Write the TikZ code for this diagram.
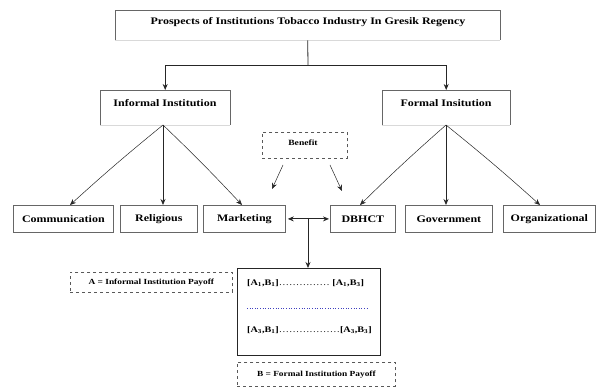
\documentclass[tikz,border=0pt]{standalone}
\usepackage{fontspec}
\setmainfont[FakeStretch=1.2]{Liberation Serif}
\usetikzlibrary{arrows.meta,positioning}
\begin{document}
\begin{tikzpicture}[x=1pt,y=-1pt,
  box/.style={draw=gray!80!black, line width=0.8pt, inner sep=0pt, font=\bfseries\fontsize{10}{11}\selectfont},
  dbox/.style={draw=gray!70!black, dashed, line width=0.7pt, inner sep=0pt, font=\bfseries\fontsize{7.8}{9}\selectfont},
  arr/.style={-{Stealth[length=6pt,width=5pt]}, line width=0.8pt, black!85},
  thin/.style={-{Stealth[length=6pt,width=5pt]}, line width=0.5pt, black!85}]
\useasboundingbox (0,0) rectangle (597,387);
% top box
\node[minimum width=385pt, minimum height=30pt, anchor=north west, inner sep=0pt] (top) at (115,10) {};
\draw[gray!80!black, line width=0.8pt] (115,40) -- (115,10) -- (500,10) -- (500,40);
\draw[gray!30, line width=0.6pt] (115,40) -- (500,40);
\node[font=\bfseries\fontsize{10}{11}\selectfont] (toptxt) at (308,22) {Prospects of Institutions Tobacco Industry In Gresik Regency};
% second level
\node[minimum width=130pt, minimum height=35pt, anchor=north west, inner sep=0pt] (inf) at (100,90) {};
\node[minimum width=128pt, minimum height=35pt, anchor=north west, inner sep=0pt] (for) at (382,90) {};
\draw[gray!80!black, line width=0.8pt] (100,125) -- (100,90) -- (230,90) -- (230,125);
\draw[gray!30, line width=0.6pt] (100,125) -- (230,125);
\draw[gray!80!black, line width=0.8pt] (382,125) -- (382,90) -- (510,90) -- (510,125);
\draw[gray!30, line width=0.6pt] (382,125) -- (510,125);
\node[font=\bfseries\fontsize{10}{11}\selectfont] (inftxt) at (165,103) {Informal Institution};
\node[font=\bfseries\fontsize{10}{11}\selectfont] (fortxt) at (446,103) {Formal Insitution};
\coordinate (j) at (308,65);
\draw[line width=0.8pt, black!85] (top.south) -- (j);
\draw[arr] (j) -| (inf.north);
\draw[arr] (j) -| (for.north);
% benefit
\node[dbox, minimum width=85pt, minimum height=26pt, anchor=north west] (ben) at (262,132) {};
\node[font=\bfseries\fontsize{8}{9}\selectfont] (bentxt) at (303,143) {Benefit};
\coordinate (b1) at (283,165);
\coordinate (b2) at (330,165);
% bottom row
\node[box, minimum width=100pt, minimum height=27pt, anchor=north west] (com) at (13,205) {Communication};
\node[box, minimum width=77pt, minimum height=27pt, anchor=north west] (rel) at (120,205) {Religious};
\node[box, minimum width=82pt, minimum height=27pt, anchor=north west] (mar) at (203,205) {Marketing};
\node[box, minimum width=65pt, minimum height=27pt, anchor=north west] (dbh) at (330,205) {DBHCT};
\node[box, minimum width=87pt, minimum height=27pt, anchor=north west] (gov) at (405,205) {Government};
\node[box, minimum width=92pt, minimum height=27pt, anchor=north west] (org) at (503,205) {Organizational};
\draw[thin] (b1) -- (272,189);
\draw[thin] (b2) -- (342,191);
% fan arrows
\coordinate (ia) at (163,125);
\coordinate (fa) at (446,125);
\draw[thin] (ia) to[bend right=1.5] (70,205);
\draw[arr] (ia) -- (rel.north -| 163,0);
\draw[thin] (ia) to[bend left=1.5] (242,205);
\draw[thin] (fa) to[bend right=1.5] (360,205);
\draw[arr] (fa) -- (gov.north -| 446,0);
\draw[thin] (fa) to[bend left=1.5] (540,205);
% double arrow
\coordinate (m) at (308,218);
\draw[line width=0.8pt, black!85, {Stealth[length=6pt,width=5pt]}-{Stealth[length=6pt,width=5pt]}] ([xshift=2pt]mar.east) -- ([xshift=-1pt]dbh.west);
% matrix
\node[draw=black!85, line width=1.1pt, minimum width=143pt, minimum height=87pt, anchor=north west, inner sep=0pt] (mat) at (237,268) {};
\draw[arr] (m) -- (mat.north -| m);
\node[font=\bfseries\fontsize{8.5}{10}\selectfont, anchor=west, inner sep=0pt] (r1) at (247,283) {[A\textsubscript{1},B\textsubscript{1}]\mdseries……………\bfseries\ [A\textsubscript{1},B\textsubscript{3}]};
\draw[dotted, line width=0.6pt, blue!50!gray] (247,308) -- (368,308);
\node[font=\bfseries\fontsize{8.5}{10}\selectfont, anchor=west, inner sep=0pt] (r3) at (247,330) {[A\textsubscript{3},B\textsubscript{1}]\mdseries………………\bfseries[A\textsubscript{3},B\textsubscript{3}]};
% legends
\node[dbox, minimum width=162pt, minimum height=20pt, anchor=north west] (la) at (70,272) {A = Informal Institution Payoff};
\node[dbox, minimum width=158pt, minimum height=24pt, anchor=north west] (lb) at (237,362) {B = Formal Institution Payoff};
\end{tikzpicture}
\end{document}
